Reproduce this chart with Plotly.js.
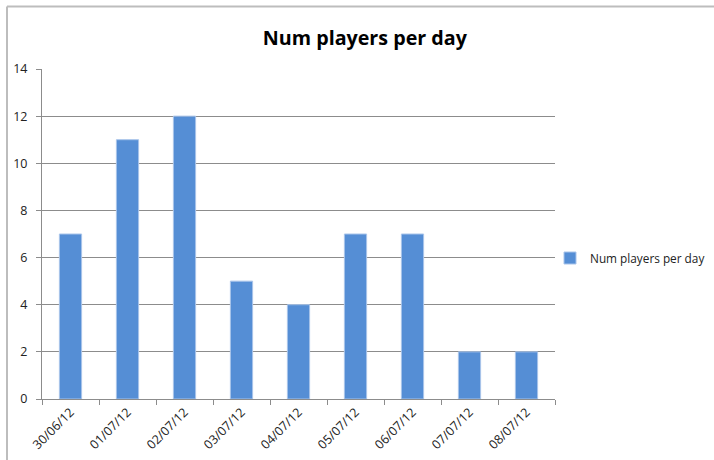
<!DOCTYPE html>
<html>
<head>
<meta charset="utf-8">
<script src="https://cdn.plot.ly/plotly-3.0.1.min.js"></script>
<style>
  html, body { margin: 0; padding: 0; background: #fff; }
  #chart { width: 714px; height: 460px; }
</style>
</head>
<body>
<div id="chart"></div>
<script>
// Daily player counts
const days = ['30/06/12', '01/07/12', '02/07/12', '03/07/12', '04/07/12',
              '05/07/12', '06/07/12', '07/07/12', '08/07/12'];
const players = [7, 11, 12, 5, 4, 7, 7, 2, 2];
const seriesName = 'Num players per day';
const yTicks = [0, 2, 4, 6, 8, 10, 12, 14];

const M = { l: 42, r: 159, t: 69, b: 61, autoexpand: false };
const W = 714, H = 460;
const pw = W - M.l - M.r, ph = H - M.t - M.b;
// chart-frame corner in paper units
const fx = (7 - M.l) / pw;
const fy = 1 + (M.t - 6.5) / ph;

const trace = {
  type: 'bar',
  x: days,
  y: players,
  name: seriesName,
  width: 0.39,
  marker: { color: '#558ed5', line: { color: '#a9c4ea', width: 1 } },
  hoverinfo: 'x+y'
};

const layout = {
  width: W, height: H,
  margin: M,
  paper_bgcolor: '#fff', plot_bgcolor: '#fff',
  font: { family: 'Open Sans, Liberation Sans, sans-serif', size: 12, color: '#222' },
  title: {
    text: '<b>' + seriesName + '</b>',
    font: { family: 'Open Sans, sans-serif', size: 19.7, color: '#000' },
    x: 0.511, xanchor: 'center', xref: 'container',
    y: 1 - 38 / H, yanchor: 'middle', yref: 'container'
  },
  showlegend: true,
  legend: {
    x: (550 - M.l) / pw, xanchor: 'left', y: (H - M.b - 258) / ph, yanchor: 'middle',
    font: { size: 11.8, color: '#222' },
    bgcolor: 'rgba(0,0,0,0)', itemwidth: 30
  },
  xaxis: {
    type: 'category',
    tickangle: -45,
    ticks: 'outside', ticklen: 5, tickcolor: '#8c8c8c',
    tickson: 'boundaries',
    showline: true, linecolor: '#8c8c8c', linewidth: 1,
    showgrid: false, zeroline: false,
    tickfont: { size: 12.5, color: '#222' }
  },
  yaxis: {
    range: [0, 14],
    tickvals: yTicks,
    ticks: 'outside', ticklen: 5, tickcolor: '#8c8c8c',
    showline: true, linecolor: '#8c8c8c', linewidth: 1,
    showgrid: true, gridcolor: '#8c8c8c', gridwidth: 1,
    zeroline: false,
    tickfont: { size: 12.5, color: '#222' },
    ticklabelstandoff: 6
  },
  shapes: [
    { type: 'line', xref: 'paper', yref: 'paper', x0: fx, x1: fx, y0: fy, y1: -0.3,
      line: { color: '#bdbdbd', width: 2 } },
    { type: 'line', xref: 'paper', yref: 'paper', x0: fx, x1: 1.5, y0: fy, y1: fy,
      line: { color: '#bdbdbd', width: 2 } }
  ]
};

Plotly.newPlot('chart', [trace], layout, { displayModeBar: false, staticPlot: true });
</script>
</body>
</html>
